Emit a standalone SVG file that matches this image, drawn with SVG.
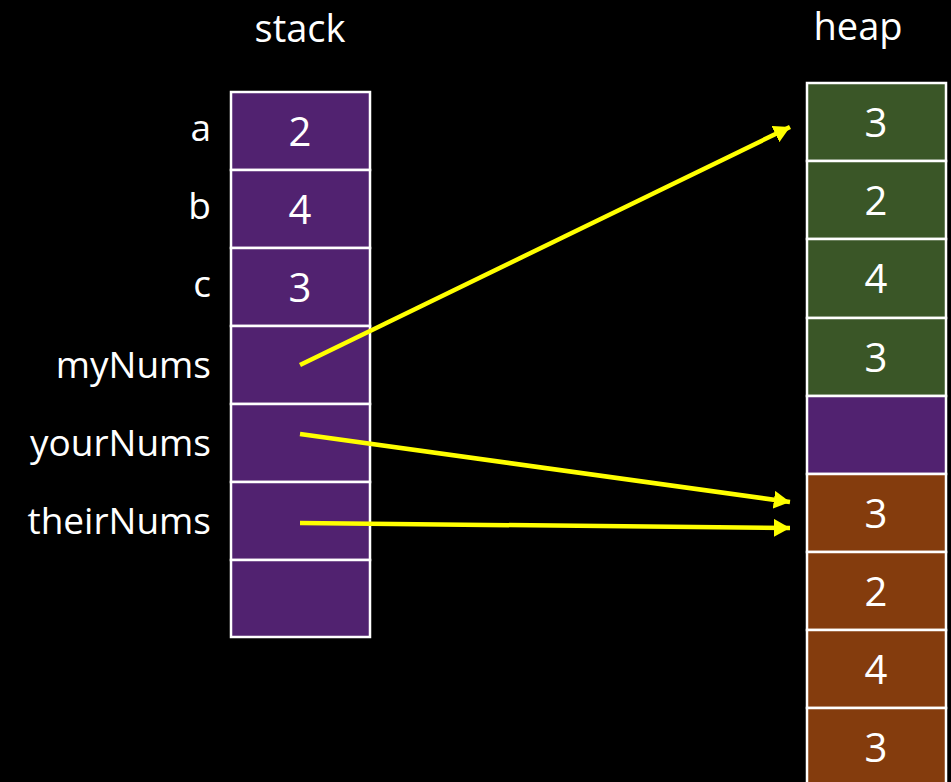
<svg xmlns="http://www.w3.org/2000/svg" width="951" height="782" viewBox="0 0 951 782">
<defs>
<style>
.t{font-family:"Open Sans","Liberation Sans",sans-serif;fill:#fff}
.lbl{font-size:37px;text-anchor:end}
.num{font-size:40px;text-anchor:middle}
.ttl{font-size:38px;text-anchor:middle}
.cell{stroke:#fff;stroke-width:2.5}
.p{fill:#512270}
.g{fill:#3A5627}
.b{fill:#843C0D}
.arr{stroke:#FFFF00;stroke-width:4.5;fill:none;marker-end:url(#ah)}
</style>
<marker id="ah" markerWidth="4" markerHeight="4" refX="3.6" refY="2" orient="auto" markerUnits="strokeWidth">
<path d="M0,0 L3.6,2 L0,4 z" fill="#FFFF00"/>
</marker>
</defs>
<rect width="951" height="782" fill="#000"/>
<text class="t ttl" x="300" y="42">stack</text>
<text class="t ttl" x="858" y="40">heap</text>
<g id="stack">
<g id="s-a"><rect class="cell p" x="231" y="92" width="139" height="78"/><text class="t num" x="300" y="146">2</text><text class="t lbl" x="211" y="141">a</text></g>
<g id="s-b"><rect class="cell p" x="231" y="170" width="139" height="78"/><text class="t num" x="300" y="224">4</text><text class="t lbl" x="211" y="219">b</text></g>
<g id="s-c"><rect class="cell p" x="231" y="248" width="139" height="78"/><text class="t num" x="300" y="302">3</text><text class="t lbl" x="211" y="297">c</text></g>
<g id="s-myNums"><rect class="cell p" x="231" y="326" width="139" height="78"/><text class="t lbl" x="211" y="378">myNums</text></g>
<g id="s-yourNums"><rect class="cell p" x="231" y="404" width="139" height="78"/><text class="t lbl" x="211" y="456">yourNums</text></g>
<g id="s-theirNums"><rect class="cell p" x="231" y="482" width="139" height="78"/><text class="t lbl" x="211" y="534">theirNums</text></g>
<g id="s-empty"><rect class="cell p" x="231" y="560" width="139" height="77"/></g>
</g>
<g id="heap">
<g id="h1"><rect class="cell g" x="807" y="83" width="139" height="78"/><text class="t num" x="876" y="137">3</text></g>
<g id="h2"><rect class="cell g" x="807" y="161" width="139" height="78"/><text class="t num" x="876" y="215">2</text></g>
<g id="h3"><rect class="cell g" x="807" y="239" width="139" height="79"/><text class="t num" x="876" y="293">4</text></g>
<g id="h4"><rect class="cell g" x="807" y="318" width="139" height="78"/><text class="t num" x="876" y="372">3</text></g>
<g id="h5"><rect class="cell p" x="807" y="396" width="139" height="78"/></g>
<g id="h6"><rect class="cell b" x="807" y="474" width="139" height="78"/><text class="t num" x="876" y="528">3</text></g>
<g id="h7"><rect class="cell b" x="807" y="552" width="139" height="78"/><text class="t num" x="876" y="606">2</text></g>
<g id="h8"><rect class="cell b" x="807" y="630" width="139" height="78"/><text class="t num" x="876" y="684">4</text></g>
<g id="h9"><rect class="cell b" x="807" y="708" width="139" height="80"/><text class="t num" x="876" y="762">3</text></g>
</g>
<g id="connectors">
<line class="arr" x1="300" y1="365" x2="790" y2="127"/>
<line class="arr" x1="300" y1="434" x2="790" y2="502"/>
<line class="arr" x1="300" y1="523" x2="790" y2="528"/>
</g>
</svg>
